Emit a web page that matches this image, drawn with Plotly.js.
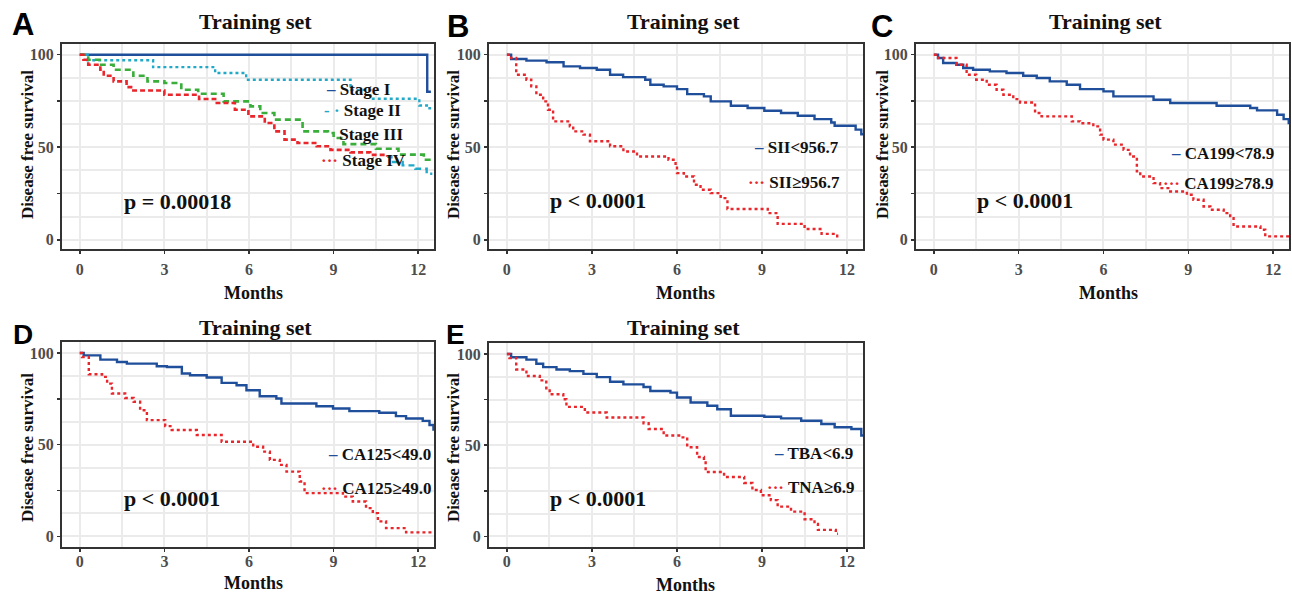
<!DOCTYPE html>
<html>
<head>
<meta charset="utf-8">
<script src="https://cdn.plot.ly/plotly-3.0.1.min.js"></script>
<style>html,body{margin:0;padding:0;background:#fff;}#chart{width:1292px;height:595px;}</style>
</head>
<body>
<div id="chart"></div>
<script>
// ---------- DATA (months, disease free survival %) ----------
// Panel A: Stage
const stageI_t   = [0, 12.32, 12.45];
const stageI_s   = [100, 80, 80];
const stageII_t  = [0, 0.28, 2.6, 4.8, 5.9, 9.6, 10.3, 12.04, 12.4, 12.5];
const stageII_s  = [100, 97, 93.3, 90.1, 86.5, 81, 76.2, 72.6, 71, 71];
const stageIII_t = [0, 0.3, 0.7, 1.2, 1.9, 2.4, 3.0, 3.6, 4.2, 5.1, 6.05, 6.4, 6.9, 7.9, 8.8, 9.0, 9.35, 10.5, 11.3, 12.2, 12.5];
const stageIII_s = [100, 97.3, 94.6, 91.9, 88.6, 85.6, 84.7, 81.1, 78.9, 74.8, 72.1, 68.5, 64.9, 58.6, 57.7, 55, 51.7, 49.2, 46, 43.2, 43.2];
const stageIV_t  = [0, 0.13, 0.3, 0.73, 0.85, 1.2, 1.66, 1.9, 3.0, 4.23, 4.8, 5.5, 5.98, 6.56, 6.9, 7.26, 7.72, 8.4, 8.89, 9.6, 10.3, 10.9, 11.05, 11.45, 11.9, 12.3, 12.5];
const stageIV_s  = [100, 97.3, 94.6, 91.9, 88.6, 85.6, 82.5, 80.7, 78.4, 76.1, 73.9, 70.3, 66.7, 63.1, 58.6, 54.1, 52.3, 50.5, 48.6, 47.2, 45.9, 44.9, 42, 40.2, 38.4, 35.7, 35.7];
const stageIV_tailMonth = 10.9; // from here the curve is drawn in teal dashes

// Panel B: SII
const siiLow_t  = [0, 0.15, 0.69, 1.4, 2.0, 2.58, 3.17, 3.64, 4.1, 4.88, 5.06, 5.53, 6.0, 6.36, 6.95, 7.19, 7.9, 8.49, 9.08, 9.67, 10.26, 10.85, 11.44, 11.56, 12.3, 12.5, 12.6];
const siiLow_s  = [100, 97.7, 96.8, 95.9, 93.7, 92.8, 91.9, 89.2, 87.9, 86.5, 83.8, 82.9, 81.4, 78.7, 77.5, 74.8, 72.4, 71.2, 69.7, 68.5, 67, 65.2, 63.4, 61.6, 59.5, 57, 57];
const siiHigh_t = [0, 0.15, 0.33, 0.69, 0.86, 1.04, 1.28, 1.45, 1.63, 2.22, 2.34, 2.7, 2.93, 3.64, 4.11, 4.59, 5.7, 5.95, 6.0, 6.24, 6.6, 6.83, 7.19, 7.54, 7.78, 9.2, 9.55, 10.5, 11.1, 11.65, 11.7];
const siiHigh_s = [100, 98.2, 89.2, 86.5, 82.9, 78.4, 74.8, 70.3, 64, 61.3, 58.6, 56.8, 53.2, 50.5, 47.7, 45, 43.2, 39.6, 36, 34.2, 29.7, 27, 25.2, 22.5, 16.6, 14.4, 8.6, 5.8, 3.2, 1, 1];

// Panel C: CA199
const ca199Low_t  = [0, 0.15, 0.33, 0.8, 1.04, 1.39, 1.98, 2.57, 3.16, 3.64, 4.1, 4.7, 5.17, 6.0, 6.35, 7.77, 8.36, 10.0, 11.19, 11.43, 12.14, 12.37, 12.55, 12.6];
const ca199Low_s  = [100, 98.2, 95.5, 94.6, 92.8, 91.9, 91, 90.1, 88.6, 87.4, 85.6, 83.8, 81.4, 80.2, 77.5, 75.7, 73.9, 72.4, 71.2, 69.9, 67.6, 65.2, 63.1, 63.1];
const ca199High_t = [0, 0.15, 0.8, 1.16, 1.5, 1.87, 2.22, 2.46, 2.81, 3.05, 3.58, 3.81, 4.88, 5.17, 5.64, 5.88, 6.0, 6.35, 6.71, 6.94, 7.18, 7.3, 7.77, 8.0, 8.36, 8.95, 9.18, 9.54, 9.78, 10.25, 10.48, 10.6, 11.55, 11.72, 12.6];
const ca199High_s = [100, 98.2, 94.6, 89.2, 86.5, 83.8, 81.1, 78.4, 76, 74.2, 68.5, 66.7, 64, 63, 61.3, 56.8, 54.1, 51.4, 48.6, 45, 37, 34.2, 30.6, 27.9, 26.1, 24.3, 21.6, 18, 16.2, 14.4, 11.7, 7.2, 5.4, 1.8, 1.8];

// Panel D: CA125
const ca125Low_t  = [0, 0.14, 0.73, 1.32, 1.67, 2.73, 3.09, 3.62, 3.91, 4.5, 5.03, 5.56, 5.91, 6.38, 6.97, 7.15, 8.39, 8.98, 9.56, 10.62, 11.21, 11.57, 12.16, 12.4, 12.54, 12.6];
const ca125Low_s  = [100, 98.7, 96.4, 95.1, 94.2, 92.8, 92.4, 88.8, 87.9, 86.6, 83.7, 82.4, 79.7, 76.4, 75.2, 72.5, 71, 69.7, 68.3, 67.4, 65.6, 64.3, 63, 60.7, 58.3, 58.3];
const ca125High_t = [0, 0.08, 0.32, 0.79, 0.97, 1.14, 1.61, 1.91, 2.14, 2.38, 3.03, 3.26, 4.15, 5.03, 6.15, 6.5, 6.74, 7.09, 7.33, 7.8, 7.97, 9.33, 9.68, 10.15, 10.39, 10.57, 10.86, 11.57, 12.6];
const ca125High_s = [100, 97.8, 88.4, 87, 83.3, 77.9, 75.5, 73.4, 68.8, 63.4, 60.1, 58, 55.3, 51.6, 48.9, 46.2, 41.7, 39, 35.3, 29.9, 23.6, 21.7, 19, 15.4, 12.7, 8.2, 4.5, 2.2, 2.2];

// Panel E: TBA
const tbaLow_t  = [0, 0.15, 0.69, 1.04, 1.28, 1.75, 2.22, 2.7, 3.17, 3.64, 4.11, 4.82, 5.06, 5.77, 6.0, 6.48, 7.07, 7.42, 7.9, 9.08, 9.67, 10.38, 11.09, 11.56, 12.15, 12.5, 12.6];
const tbaLow_s  = [100, 98.2, 96.9, 94.6, 92.8, 91.5, 90.6, 89.1, 87.3, 84.8, 83.3, 81.9, 79.7, 78.8, 76.1, 73.4, 71.6, 69.7, 66.1, 65.6, 64.7, 63.4, 61.6, 59.8, 58.9, 55.3, 55.3];
const tbaHigh_t = [0, 0.09, 0.33, 0.69, 1.16, 1.39, 1.51, 1.99, 2.1, 2.75, 3.52, 4.82, 5.0, 5.53, 6.12, 6.36, 6.71, 6.95, 7.01, 7.66, 8.37, 8.66, 8.96, 9.31, 9.55, 10.02, 10.5, 10.85, 10.97, 11.6, 11.68];
const tbaHigh_s = [100, 97.8, 91.5, 87.9, 85.5, 81.2, 77.9, 75.2, 71, 67.9, 65.2, 62, 58.9, 55.3, 54.3, 48.9, 43.5, 41.7, 35.3, 32.6, 29.3, 25.4, 22.6, 19.9, 16.3, 13.6, 9.4, 6.9, 3.6, 1.5, 1.5];

// Tick labels
const xTickVals = [0, 3, 6, 9, 12];
const xTickText = ['0', '3', '6', '9', '12'];
const xMinorVals = [1.5, 4.5, 7.5, 10.5];
const yTickVals = [0, 25, 50, 75, 100];
const yTickText = ['0', '', '50', '', '100'];
const yMinorVals = [12.5, 37.5, 62.5, 87.5];

// Labels
const panelLetters = ['A', 'B', 'C', 'D', 'E'];
const panelTitle = 'Training set';
const xTitle = 'Months';
const yTitle = 'Disease free survival';
const pValues = ['p = 0.00018', 'p < 0.0001', 'p < 0.0001', 'p < 0.0001', 'p < 0.0001'];
const legendA = ['Stage I', 'Stage II', 'Stage III', 'Stage IV'];
const legendB = ['SII<956.7', 'SII≥956.7'];
const legendC = ['CA199<78.9', 'CA199≥78.9'];
const legendD = ['CA125<49.0', 'CA125≥49.0'];
const legendE = ['TBA<6.9', 'TNA≥6.9'];

// ---------- STYLE ----------
const W = 1292, H = 595;
const BLUE = '#1F4E9A', RED = '#E8262B', GREEN = '#3AAE3A', TEAL = '#23A9C8';
const SERIF = 'Liberation Serif, Times New Roman, serif';
const SANS = 'Liberation Sans, Arial, sans-serif';
const px = x => x / W, py = y => 1 - y / H;

function km(t, s, axis, color, dash, width) {
  return {
    x: t, y: s, xaxis: 'x' + axis, yaxis: 'y' + axis,
    type: 'scatter', mode: 'lines', line: {shape: 'hv', color: color, dash: dash, width: width || 2.4},
    hoverinfo: 'skip', showlegend: false
  };
}

const tailIdx = stageIV_t.findIndex(t => t >= stageIV_tailMonth);

const traces = [
  km(stageI_t, stageI_s, '', BLUE, 'solid', 2.4),
  km(stageII_t, stageII_s, '', TEAL, 'dot', 2.4),
  km(stageIII_t, stageIII_s, '', GREEN, '6px,4px', 2.6),
  km(stageIV_t.slice(0, tailIdx + 1), stageIV_s.slice(0, tailIdx + 1), '', RED, '5px,3px', 2.6),
  km(stageIV_t.slice(tailIdx), stageIV_s.slice(tailIdx), '', TEAL, '6px,4px', 2.4),
  km(siiLow_t, siiLow_s, '2', BLUE, 'solid', 2.4),
  km(siiHigh_t, siiHigh_s, '2', RED, 'dot', 2.4),
  km(ca199Low_t, ca199Low_s, '3', BLUE, 'solid', 2.4),
  km(ca199High_t, ca199High_s, '3', RED, 'dot', 2.4),
  km(ca125Low_t, ca125Low_s, '4', BLUE, 'solid', 2.4),
  km(ca125High_t, ca125High_s, '4', RED, 'dot', 2.4),
  km(tbaLow_t, tbaLow_s, '5', BLUE, 'solid', 2.4),
  km(tbaHigh_t, tbaHigh_s, '5', RED, 'dot', 2.4)
];

// panel boxes in pixels [left, right, top, bottom]
const boxes = [
  [62, 434, 44, 249],
  [489, 863, 44, 249],
  [916, 1289, 44, 249],
  [62, 434, 342, 547],
  [489, 863, 343, 547]
];
const yRanges = [[-5, 105.8], [-5, 105.8], [-5, 105.8], [-5.8, 106], [-5.8, 106]];
const xRange = [-0.63, 12.56];

const tickFont = {family: SERIF, size: 16, color: '#4D4D4D', weight: 700};
const GRID = '#EBEBEB';
const layout = {
  width: W, height: H, margin: {l: 0, r: 0, t: 0, b: 0},
  paper_bgcolor: '#fff', plot_bgcolor: '#fff', showlegend: false,
  annotations: [], shapes: []
};
boxes.forEach((b, i) => {
  const sfx = i === 0 ? '' : String(i + 1);
  layout['xaxis' + sfx] = {
    domain: [px(b[0]), px(b[1])], range: xRange, anchor: 'y' + sfx,
    tickmode: 'array', tickvals: xTickVals, ticktext: xTickText,
    ticks: 'outside', ticklen: 3, tickwidth: 1.5, tickcolor: '#333333',
    ticklabelstandoff: i < 3 ? 2 : -4,
    minor: {tickmode: 'array', tickvals: xMinorVals, showgrid: true, gridcolor: GRID, gridwidth: 2, ticks: ''},
    showgrid: true, gridcolor: GRID, gridwidth: 2, zeroline: false,
    showline: true, mirror: true, linecolor: '#333333', linewidth: 2,
    tickfont: tickFont, fixedrange: true
  };
  layout['yaxis' + sfx] = {
    domain: [py(b[3]), py(b[2])], range: yRanges[i], anchor: 'x' + sfx,
    tickmode: 'array', tickvals: yTickVals, ticktext: yTickText,
    ticks: 'outside', ticklen: 3, tickwidth: 1.5, tickcolor: '#333333',
    ticklabelstandoff: 0,
    minor: {tickmode: 'array', tickvals: yMinorVals, showgrid: true, gridcolor: GRID, gridwidth: 2, ticks: ''},
    showgrid: true, gridcolor: GRID, gridwidth: 2, zeroline: false,
    showline: true, mirror: true, linecolor: '#333333', linewidth: 2,
    tickfont: tickFont, fixedrange: true
  };
});

function ann(text, x, y, opts) {
  layout.annotations.push(Object.assign({
    text: text, x: px(x), y: py(y), xref: 'paper', yref: 'paper',
    showarrow: false, xanchor: 'center', yanchor: 'middle', borderpad: 0,
    font: {family: SERIF, size: 17, color: '#111', weight: 700}
  }, opts || {}));
}

const titlePos  = [[255, 22], [683, 22], [1105, 22], [255, 327], [683, 327]];
const letterPos = [[23, 25], [458, 27], [882, 27], [23, 334], [455, 334]];
const pPos      = [[177, 201], [598, 200], [1025, 200], [172, 498], [598, 498]];
const monthsPos = [[253, 293], [685, 293], [1108, 293], [253, 583], [685, 585]];
const yTitlePos = [[27, 145], [453, 145], [882, 145], [27, 448], [453, 448]];

for (let i = 0; i < 5; i++) {
  ann(panelTitle, titlePos[i][0], titlePos[i][1], {font: {family: SERIF, size: 22, color: '#111', weight: 700}});
  ann(panelLetters[i], letterPos[i][0], letterPos[i][1], {font: {family: SANS, size: i < 3 ? 31 : 28, color: '#000', weight: 700}});
  ann(pValues[i], pPos[i][0], pPos[i][1], {font: {family: SERIF, size: 22, color: '#111', weight: 700}});
  ann(xTitle, monthsPos[i][0], monthsPos[i][1], {font: {family: SERIF, size: 18, color: '#111', weight: 700}});
  ann(yTitle, yTitlePos[i][0], yTitlePos[i][1], {textangle: -90, font: {family: SERIF, size: 17, color: '#111', weight: 700}});
}

function legendItem(sample, color, label, x, y) {
  ann('<span style="color:' + color + '">' + sample + '</span> ' + label, x, y, {xanchor: 'left'});
}
// Panel A legend
legendItem('–', BLUE, legendA[0], 325, 89);
legendItem('- ·', TEAL, legendA[1], 323, 110);
legendItem('', GREEN, legendA[2], 334, 135);
legendItem('···', RED, legendA[3], 320, 161);
// B
legendItem('–', BLUE, legendB[0], 753, 147);
legendItem('···', RED, legendB[1], 747, 182);
// C
legendItem('–', BLUE, legendC[0], 1170, 154);
legendItem('···', RED, legendC[1], 1162, 183);
// D
legendItem('–', BLUE, legendD[0], 327, 454);
legendItem('···', RED, legendD[1], 320, 488);
// E
legendItem('–', BLUE, legendE[0], 773, 453);
legendItem('···', RED, legendE[1], 766, 487);

Plotly.newPlot('chart', traces, layout, {staticPlot: true, displayModeBar: false});
</script>
</body>
</html>
